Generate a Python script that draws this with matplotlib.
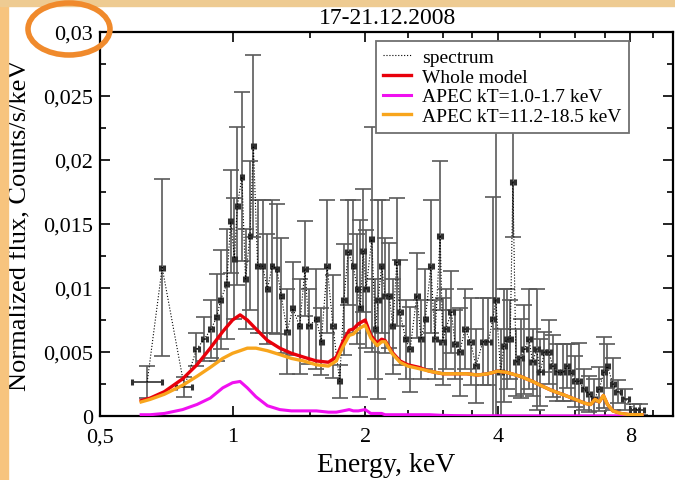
import numpy as np
import matplotlib
matplotlib.use('Agg')
import matplotlib.pyplot as plt
from matplotlib.patches import Rectangle, Ellipse
from matplotlib.ticker import FixedLocator, FixedFormatter, MultipleLocator, FuncFormatter

plt.rcParams['font.family'] = ['Liberation Serif', 'DejaVu Serif']

# spectrum: bin centre, half width (keV), flux, 1-sigma error
energy = [0.640, 0.692, 0.777, 0.828, 0.862, 0.894, 0.92, 0.94, 0.97, 0.99,
          1.01, 1.025, 1.05, 1.07, 1.095, 1.115, 1.14, 1.17, 1.20, 1.23,
          1.26, 1.29, 1.33, 1.37, 1.42, 1.46, 1.49, 1.55, 1.59, 1.64,
          1.69, 1.75, 1.79, 1.83, 1.88, 1.92, 1.95, 1.98, 2.01, 2.07,
          2.11, 2.14, 2.18, 2.22, 2.27, 2.31, 2.36, 2.40, 2.47, 2.53,
          2.62, 2.68, 2.74, 2.82, 2.88, 2.96, 3.00, 3.05, 3.14, 3.20,
          3.28, 3.37, 3.47, 3.57, 3.70, 3.81, 3.90, 3.96, 4.06, 4.13,
          4.20, 4.27, 4.33, 4.40, 4.51, 4.60, 4.71, 4.80, 4.90, 5.00,
          5.10, 5.23, 5.33, 5.45, 5.63, 5.75, 5.87, 6.00, 6.12, 6.28,
          6.45, 6.62, 6.80, 6.97, 7.10, 7.30, 7.50, 7.80, 8.17, 8.40]
e_half = [0.050, 0.008, 0.033, 0.012, 0.011, 0.010, 0.008, 0.008, 0.007, 0.007,
          0.007, 0.007, 0.007, 0.007, 0.007, 0.007, 0.008, 0.008, 0.008, 0.008,
          0.008, 0.009, 0.012, 0.012, 0.013, 0.013, 0.013, 0.014, 0.014, 0.015,
          0.015, 0.016, 0.016, 0.017, 0.017, 0.017, 0.018, 0.018, 0.018, 0.019,
          0.019, 0.019, 0.020, 0.020, 0.020, 0.021, 0.021, 0.022, 0.022, 0.023,
          0.024, 0.024, 0.025, 0.026, 0.030, 0.027, 0.035, 0.035, 0.036, 0.037,
          0.038, 0.039, 0.040, 0.041, 0.043, 0.044, 0.045, 0.046, 0.047, 0.048,
          0.049, 0.050, 0.040, 0.051, 0.052, 0.053, 0.054, 0.055, 0.057, 0.058,
          0.059, 0.060, 0.062, 0.063, 0.065, 0.066, 0.068, 0.069, 0.070, 0.072,
          0.074, 0.076, 0.078, 0.060, 0.060, 0.084, 0.130, 0.150, 0.180, 0.190]
flux = [0.00266, 0.0116, 0.00227, 0.0052, 0.0060, 0.0068, 0.0077, 0.0091, 0.0103, 0.0152,
        0.0123, 0.0164, 0.0187, 0.0107, 0.0141, 0.0211, 0.0117, 0.0117, 0.0099, 0.0117,
        0.0115, 0.0094, 0.0066, 0.0084, 0.0070, 0.0115, 0.0070, 0.0076, 0.0058, 0.0117,
        0.0070, 0.0027, 0.0091, 0.0128, 0.0117, 0.0099, 0.0084, 0.0129, 0.0099, 0.0138,
        0.0068, 0.0091, 0.0117, 0.0094, 0.0094, 0.0070, 0.0120, 0.0081, 0.0060, 0.0052,
        0.0094, 0.0060, 0.0076, 0.0117, 0.0060, 0.0141, 0.0058, 0.0068, 0.0081, 0.0056,
        0.0050, 0.0068, 0.0058, 0.0039, 0.0058, 0.0058, 0.0076, 0.0091, 0.0034, 0.0055,
        0.0060, 0.0060, 0.0183, 0.0042, 0.0045, 0.0052, 0.0060, 0.0042, 0.0052, 0.0034,
        0.0050, 0.0050, 0.0039, 0.0034, 0.0034, 0.0039, 0.0034, 0.0027, 0.0027, 0.0021,
        0.0017, 0.0013, 0.0021, 0.0034, 0.0039, 0.0025, 0.0019, 0.0013, 0.0005, 0.0005]
flux_err = [0.00125, 0.0069, 0.00078, 0.0013, 0.0017, 0.0023, 0.0034, 0.0039, 0.0043, 0.0040,
            0.0047, 0.0062, 0.0066, 0.0039, 0.0058, 0.0071, 0.0052, 0.0052, 0.0043, 0.0052,
            0.0051, 0.0045, 0.0033, 0.0036, 0.0037, 0.0037, 0.0029, 0.0039, 0.0026, 0.0052,
            0.0040, 0.0013, 0.0043, 0.0041, 0.0052, 0.0043, 0.0069, 0.0048, 0.0046, 0.0088,
            0.0039, 0.0078, 0.0052, 0.0045, 0.0041, 0.0037, 0.0050, 0.0041, 0.0031, 0.0033,
            0.0033, 0.0031, 0.0039, 0.0052, 0.0031, 0.0058, 0.0034, 0.0031, 0.0032, 0.0027,
            0.0034, 0.0031, 0.0034, 0.0029, 0.0034, 0.0034, 0.0095, 0.0180, 0.0034, 0.0044,
            0.0039, 0.0031, 0.0043, 0.0026, 0.0031, 0.0035, 0.0039, 0.0026, 0.0047, 0.0026,
            0.0016, 0.0025, 0.0024, 0.0022, 0.0022, 0.0017, 0.0022, 0.0020, 0.0030, 0.0016,
            0.0014, 0.0016, 0.0017, 0.0028, 0.0017, 0.0020, 0.0009, 0.0008, 0.0004, 0.0004]

# fitted model curves
model_e = [0.62, 0.65, 0.70, 0.77, 0.83, 0.89, 0.95, 1.00, 1.04, 1.08,
           1.13, 1.20, 1.28, 1.36, 1.45, 1.55, 1.65, 1.72, 1.78, 1.84,
           1.88, 1.93, 2.00, 2.06, 2.13, 2.18, 2.22, 2.30, 2.40, 2.50,
           2.65, 2.80, 3.00, 3.20, 3.40, 3.60, 3.80, 4.00, 4.20, 4.50,
           4.80, 5.00, 5.30, 5.60, 6.00, 6.30, 6.50, 6.65, 6.80, 6.95,
           7.10, 7.30, 7.60, 8.00, 8.50]
whole_model = [0.0012, 0.0014, 0.0019, 0.0029, 0.0040, 0.0053, 0.0066, 0.0075, 0.0079, 0.0075,
               0.0068, 0.0059, 0.0053, 0.0049, 0.0046, 0.0043, 0.0042, 0.0046, 0.0058, 0.0067,
               0.0068, 0.0072, 0.0075, 0.0063, 0.0057, 0.0060, 0.0059, 0.0050, 0.0043, 0.0040,
               0.0038, 0.0035, 0.0033, 0.0033, 0.0033, 0.0032, 0.0033, 0.0035, 0.0034, 0.0031,
               0.0027, 0.0024, 0.0020, 0.0017, 0.0013, 0.0010, 0.0009, 0.0013, 0.0011, 0.0016,
               0.0009, 0.0004, 0.0002, 0.0001, 0.0001]
apec_hot = [0.0011, 0.0013, 0.0017, 0.0024, 0.0031, 0.0038, 0.0045, 0.0049, 0.0051, 0.0053,
            0.0053, 0.0051, 0.0048, 0.0045, 0.0043, 0.0040, 0.0039, 0.0043, 0.0054, 0.0063,
            0.0064, 0.0068, 0.0071, 0.0061, 0.0055, 0.0058, 0.0058, 0.0049, 0.0042, 0.0039,
            0.0037, 0.0035, 0.0033, 0.0033, 0.0033, 0.0032, 0.0033, 0.0035, 0.0034, 0.0031,
            0.0027, 0.0024, 0.0020, 0.0017, 0.0013, 0.0010, 0.0009, 0.0013, 0.0011, 0.0016,
            0.0009, 0.0004, 0.0002, 0.0001, 0.0001]
apec_cool = [0.0001, 0.0001, 0.0002, 0.0005, 0.0009, 0.0014, 0.0022, 0.0026, 0.0027, 0.0022,
             0.0015, 0.0008, 0.0005, 0.0004, 0.0004, 0.0004, 0.0003, 0.0003, 0.0004, 0.0005,
             0.0004, 0.0004, 0.0005, 0.0002, 0.0002, 0.0002, 0.0001, 0.0001, 0.0001, 0.0001,
             0.0001, 0.0001, 0.00005, 0.00003, 0.00002, 0.00002, 0.00002, 0.00002, 0.00001, 0.00001,
             0.00001, 0.00001, 0.00001, 0.00001, 0.00001, 0.00001, 0.00001, 0.00001, 0.00001, 0.00001,
             0.00001, 0.00001, 0.00001, 0.00001, 0.00001]

x_ticks = [0.5, 1, 2, 4, 8]
x_labels = ['0,5', '1', '2', '4', '8']
x_minor = [1.5, 2.5, 3, 3.5, 5, 6, 7, 9]

fig = plt.figure(figsize=(6.75, 4.81), dpi=100)
# slide background strips
fig.patches.append(Rectangle((0, 0), 8 / 675, 1, transform=fig.transFigure, color='#F7C47E', zorder=0))
fig.patches.append(Rectangle((0, 1 - 7 / 481), 1, 7 / 481, transform=fig.transFigure, color='#EECB92', zorder=0))

ax = fig.add_axes([100 / 675, 64 / 481, 573 / 675, 384 / 481])
ax.set_xscale('log')
ax.set_xlim(0.5, 10)
ax.set_ylim(0, 0.03)

# spectrum with error bars
ax.errorbar(energy, flux, yerr=flux_err, fmt='none', ecolor='#5a5a5a', elinewidth=1.2, capsize=5.5, capthick=1.2, zorder=2)
ax.errorbar(energy, flux, xerr=e_half, fmt='none', ecolor='#303030', elinewidth=1.2, capsize=2.5, capthick=2.2, zorder=2)
ax.plot(energy, flux, ls=':', color='black', lw=0.8, zorder=3, label='spectrum')

ax.plot(model_e, whole_model, color='#E8000B', lw=2.4, zorder=4, label='Whole model')
ax.plot(model_e, apec_cool, color='#F010F0', lw=2.2, zorder=5, label='APEC kT=1.0-1.7 keV')
ax.plot(model_e, apec_hot, color='#F8A51C', lw=2.4, zorder=5, label='APEC kT=11.2-18.5 keV')

ax.xaxis.set_major_locator(FixedLocator(x_ticks))
ax.xaxis.set_major_formatter(FixedFormatter(x_labels))
ax.xaxis.set_minor_locator(FixedLocator(x_minor))
ax.xaxis.set_minor_formatter(FixedFormatter([''] * len(x_minor)))
ax.yaxis.set_major_locator(MultipleLocator(0.005))
ax.yaxis.set_minor_locator(MultipleLocator(0.0025))
ax.yaxis.set_major_formatter(FuncFormatter(lambda v, p: ('%g' % round(v, 4)).replace('.', ',')))

ax.tick_params(which='both', direction='in', top=True, right=True, labelsize=16, width=1.2)
ax.tick_params(which='major', length=7)
ax.tick_params(which='minor', length=4)
ax.tick_params(axis='x', pad=8)
ax.tick_params(axis='y', pad=5)
for s in ax.spines.values():
    s.set_linewidth(1.6)

ax.set_xlabel('Energy, keV', fontsize=20, labelpad=4)
ax.set_ylabel('Normalized flux, Counts/s/keV', fontsize=19, labelpad=8)
fig.text(388 / 675, 1 - 18 / 481, '17-21.12.2008', fontsize=17, ha='center', va='center')

leg = ax.legend(loc='upper left', bbox_to_anchor=(0.481, 0.977), fontsize=14, frameon=True, fancybox=False,
                framealpha=1, edgecolor='#707070', handlelength=1.4, handletextpad=0.6,
                labelspacing=0.1, borderpad=0.4, borderaxespad=0)
leg.get_frame().set_linewidth(1.3)

# orange circle around the top tick label
fig.patches.append(Ellipse((69 / 675, 1 - 30 / 481), 82 / 675, 52 / 481, transform=fig.transFigure,
                           fill=False, edgecolor='#F08A2C', lw=4, zorder=10))

fig.savefig('out.png', dpi=100)
